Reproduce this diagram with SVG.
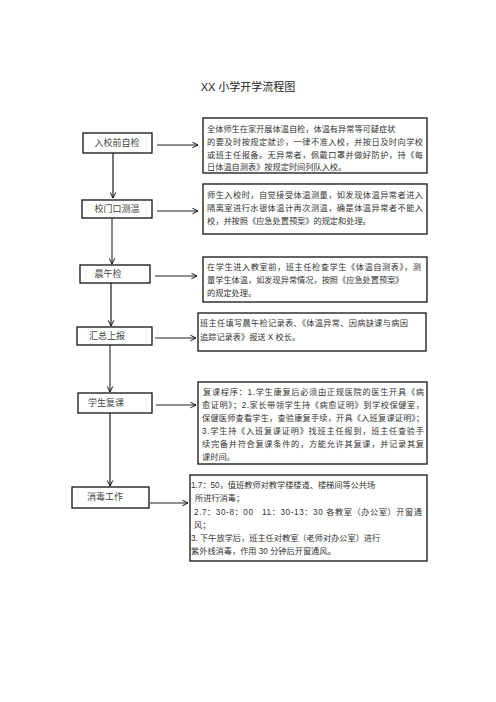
<svg xmlns="http://www.w3.org/2000/svg" width="496" height="702" viewBox="0 0 496 702">
<defs>
<marker id="ah" viewBox="0 0 10 10" refX="9" refY="5" markerWidth="7" markerHeight="7" orient="auto" markerUnits="userSpaceOnUse">
<path d="M1,1 L9,5 L1,9" fill="none" stroke="#111" stroke-width="1.4"/>
</marker>
<style>
.box{fill:#fff;stroke:#111;stroke-width:1.3}
.lbl{font-family:"Liberation Sans","Noto Sans CJK SC",sans-serif;font-size:9px;fill:#444;text-anchor:middle}
.t{font-family:"Liberation Sans","Noto Sans CJK SC",sans-serif;font-size:8.2px;fill:#333}
.title{font-family:"Liberation Sans","Noto Sans CJK SC",sans-serif;font-size:11px;fill:#222;text-anchor:middle}
.vg{stroke:#777;stroke-width:2;fill:none}
.vb{stroke:#111;stroke-width:1;fill:none}
.h{stroke:#222;stroke-width:1;fill:none}
</style>
</defs>
<rect width="496" height="702" fill="#fff"/>
<text class="title" x="248" y="91">XX 小学开学流程图</text>

<g id="connectors">
<line class="vg" x1="113" y1="153" x2="113" y2="198" marker-end="url(#ah)"/>
<line class="vb" x1="112" y1="218" x2="112" y2="264" marker-end="url(#ah)"/>
<line class="vg" x1="111" y1="283" x2="111" y2="326" marker-end="url(#ah)"/>
<line class="vb" x1="110" y1="345" x2="110" y2="392" marker-end="url(#ah)"/>
<line class="vg" x1="110" y1="413" x2="110" y2="486" marker-end="url(#ah)"/>
<line class="h" x1="157" y1="145" x2="198" y2="145" marker-end="url(#ah)"/>
<line class="h" x1="157" y1="211" x2="198" y2="211" marker-end="url(#ah)"/>
<line class="h" x1="155" y1="276" x2="197" y2="276" marker-end="url(#ah)"/>
<line class="h" x1="155" y1="338" x2="196" y2="338" marker-end="url(#ah)"/>
<line class="h" x1="156" y1="405" x2="196" y2="405" marker-end="url(#ah)"/>
<line class="h" x1="150" y1="503" x2="188" y2="503" marker-end="url(#ah)"/>
</g>

<g id="n1"><rect class="box" x="83" y="133" width="69" height="20"/><text class="lbl" x="117" y="146">入校前自检</text></g>
<g id="n2"><rect class="box" x="82" y="200" width="70" height="18"/><text class="lbl" x="117" y="212">校门口测温</text></g>
<g id="n3"><rect class="box" x="80" y="265" width="70" height="18"/><text class="lbl" x="108" y="277">晨午检</text></g>
<g id="n4"><rect class="box" x="77" y="327" width="75" height="18"/><text class="lbl" x="107" y="339">汇总上报</text></g>
<g id="n5"><rect class="box" x="78" y="393" width="74" height="20"/><text class="lbl" x="106" y="406">学生复课</text></g>
<g id="n6"><rect class="box" x="72" y="487" width="77" height="21"/><text class="lbl" x="105" y="500">消毒工作</text></g>

<g id="d1"><rect class="box" x="203" y="118" width="224" height="55"/>
<text class="t" x="207" y="132">全体师生在家开展体温自检，体温有异常等可疑症状</text>
<text class="t" x="207" y="145" textLength="216">的要及时按规定就诊，一律不准入校，并按日及时向学校</text>
<text class="t" x="207" y="158" textLength="216">或班主任报备。无异常者，佩戴口罩并做好防护，持《每</text>
<text class="t" x="207" y="170">日体温自测表》按规定时间列队入校。</text>
</g>
<g id="d2"><rect class="box" x="203" y="184" width="224" height="50"/>
<text class="t" x="207" y="198" textLength="216">师生入校时，自觉接受体温测量，如发现体温异常者进入</text>
<text class="t" x="207" y="211" textLength="216">隔离室进行水银体温计再次测温，确是体温异常者不能入</text>
<text class="t" x="207" y="224">校，并按照《应急处置预案》的规定和处理。</text>
</g>
<g id="d3"><rect class="box" x="203" y="257" width="224" height="45"/>
<text class="t" x="207" y="270" textLength="214">在学生进入教室前，班主任检查学生《体温自测表》，测</text>
<text class="t" x="207" y="283">量学生体温，如发现异常情况，按照《应急处置预案》</text>
<text class="t" x="207" y="296">的规定处理。</text>
</g>
<g id="d4"><rect class="box" x="198" y="313" width="228" height="38"/>
<text class="t" x="200" y="326" textLength="208">班主任填写晨午检记录表、《体温异常、因病缺课与病因</text>
<text class="t" x="200" y="340">追踪记录表》报送 X 校长。</text>
</g>
<g id="d5"><rect class="box" x="198" y="382" width="229" height="82"/>
<text class="t" x="203" y="395" textLength="221">复课程序：1.学生康复后必须由正规医院的医生开具《病</text>
<text class="t" x="202" y="408" textLength="222">愈证明》；2.家长带领学生持《病愈证明》到学校保健室，</text>
<text class="t" x="202" y="421" textLength="222">保健医师查看学生，查验康复手续，开具《入班复课证明》；</text>
<text class="t" x="202" y="434" textLength="222">3.学生持《入班复课证明》找班主任报到，班主任查验手</text>
<text class="t" x="202" y="447" textLength="222">续完备并符合复课条件的，方能允许其复课，并记录其复</text>
<text class="t" x="202" y="460">课时间。</text>
</g>
<g id="d6"><rect class="box" x="190" y="475" width="237" height="86"/>
<text class="t" x="191" y="488">1.7：50，值班教师对教学楼楼道、楼梯间等公共场</text>
<text class="t" x="195" y="501">所进行消毒；</text>
<text class="t" x="194" y="515" textLength="228" xml:space="preserve">2.7：30-8：00   11：30-13：30 各教室（办公室）开窗通</text>
<text class="t" x="194" y="528">风；</text>
<text class="t" x="191" y="541">3. 下午放学后，班主任对教室（老师对办公室）进行</text>
<text class="t" x="191" y="554">紫外线消毒，作用 30 分钟后开窗通风。</text>
</g>
</svg>
